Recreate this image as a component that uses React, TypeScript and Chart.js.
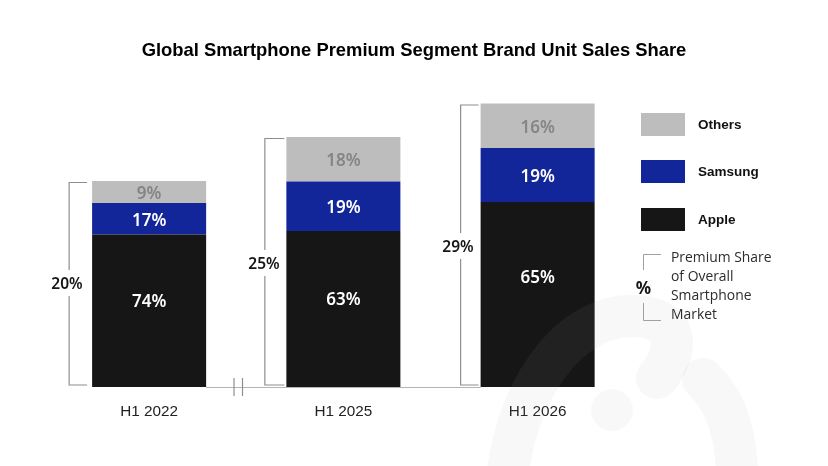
import React, { useEffect, useRef } from "react";
import { Chart, registerables } from "chart.js";

Chart.register(...registerables);

const TITLE = "Global Smartphone Premium Segment Brand Unit Sales Share";
const categories = ["H1 2022", "H1 2025", "H1 2026"];

// Segment heights as drawn in the picture, in premium-share points
const appleHeights = [15.25, 15.6, 18.5];
const samsungHeights = [3.15, 4.95, 5.4];
const othersHeights = [2.2, 4.45, 4.45];

// Printed labels
const appleLabels = ["74%", "63%", "65%"];
const samsungLabels = ["17%", "19%", "19%"];
const othersLabels = ["9%", "18%", "16%"];
const premiumLabels = ["20%", "25%", "29%"];

const noteLines = ["Premium Share", "of Overall", "Smartphone", "Market"];

const COLORS = { apple: "#161616", samsung: "#122599", others: "#bdbdbd" };
const SANS = '"Liberation Sans", Arial, sans-serif';
const PLEX = '"Noto Sans", sans-serif';
const NOTE = '"Open Sans", sans-serif';

const overlay = {
  id: "overlay",
  afterDatasetsDraw(chart: any) {
    const { ctx, scales } = chart;
    const y = scales.y;
    const base = y.getPixelForValue(0);
    ctx.save();

    // Faint watermark logo
    ctx.strokeStyle = "rgba(169,169,169,0.08)";
    ctx.fillStyle = "rgba(169,169,169,0.08)";
    ctx.lineWidth = 42;
    ctx.lineCap = "round";
    ctx.beginPath();
    ctx.moveTo(507, 485);
    ctx.bezierCurveTo(512, 398, 565, 316, 632, 316);
    ctx.bezierCurveTo(680, 316, 680, 350, 657, 378);
    ctx.stroke();
    ctx.beginPath();
    ctx.moveTo(703, 379);
    ctx.bezierCurveTo(725, 400, 738, 435, 737, 485);
    ctx.stroke();
    ctx.beginPath();
    ctx.arc(612, 410, 21, 0, Math.PI * 2);
    ctx.fill();

    // Axis line and break marks
    ctx.strokeStyle = "#b4b4b4";
    ctx.lineWidth = 1.2;
    ctx.lineCap = "butt";
    const m0 = chart.getDatasetMeta(0).data;
    ctx.beginPath();
    ctx.moveTo(m0[0].x + m0[0].width / 2, base + 0.5);
    ctx.lineTo(m0[2].x - m0[2].width / 2, base + 0.5);
    ctx.stroke();
    ctx.strokeStyle = "#8e8e8e";
    for (const bx of [234, 242.5]) {
      ctx.beginPath();
      ctx.moveTo(bx, base - 9);
      ctx.lineTo(bx, base + 9);
      ctx.stroke();
    }

    // Brackets with the premium share
    const offsets = [23, 21.5, 20];
    const tickEnds = [5, 2, 2];
    const labelY = [283, 263, 246];
    const labelX = [67, 264, 458];
    categories.forEach((_, i) => {
      const bar = m0[i];
      const left = bar.x - bar.width / 2;
      const bx = left - offsets[i];
      const topY = y.getPixelForValue(appleHeights[i] + samsungHeights[i] + othersHeights[i]) + 1.5;
      ctx.strokeStyle = "#8e8e8e";
      ctx.lineWidth = 1.2;
      ctx.beginPath();
      ctx.moveTo(left - tickEnds[i], topY);
      ctx.lineTo(bx, topY);
      ctx.lineTo(bx, base - 2);
      ctx.lineTo(left - tickEnds[i], base - 2);
      ctx.stroke();
      ctx.fillStyle = "#ffffff";
      ctx.fillRect(labelX[i] - 17, labelY[i] - 13, 34, 26);
      ctx.fillStyle = "#161616";
      ctx.font = `600 15.5px ${PLEX}`;
      ctx.textAlign = "center";
      ctx.textBaseline = "middle";
      ctx.fillText(premiumLabels[i], labelX[i], labelY[i] + 1.5);
    });

    // Segment labels
    const lifts = [10.5, 11, 18.5];
    const groups = [
      { labels: appleLabels, color: "#ffffff" },
      { labels: samsungLabels, color: "#ffffff" },
      { labels: othersLabels, color: "#858585" },
    ];
    ctx.font = `600 17px ${PLEX}`;
    groups.forEach((g, d) => {
      ctx.fillStyle = g.color;
      chart.getDatasetMeta(d).data.forEach((el: any, i: number) => {
        const mid = (el.y + el.base) / 2;
        ctx.fillText(g.labels[i], el.x, mid - (d === 0 ? lifts[i] : 0) + 2);
      });
    });

    // Legend
    const rows = [2, 1, 0];
    const rowY = [113, 160, 208];
    rows.forEach((d, r) => {
      const ds = chart.data.datasets[d];
      ctx.fillStyle = ds.backgroundColor;
      ctx.fillRect(641, rowY[r], 44, 23);
      ctx.fillStyle = "#111111";
      ctx.font = `bold 13.5px ${SANS}`;
      ctx.textAlign = "left";
      ctx.fillText(ds.label, 698, rowY[r] + 12.5);
    });

    // Premium-share note
    ctx.strokeStyle = "#a0a0a0";
    ctx.lineWidth = 1;
    ctx.beginPath();
    ctx.moveTo(661, 254.5);
    ctx.lineTo(643.5, 254.5);
    ctx.lineTo(643.5, 270);
    ctx.moveTo(643.5, 303);
    ctx.lineTo(643.5, 320.5);
    ctx.lineTo(661, 320.5);
    ctx.stroke();
    ctx.fillStyle = "#161616";
    ctx.font = `700 17px ${PLEX}`;
    ctx.textAlign = "center";
    ctx.fillText("%", 643.5, 289);
    ctx.fillStyle = "#2c2c2c";
    ctx.font = `13.9px ${NOTE}`;
    ctx.textAlign = "left";
    noteLines.forEach((t, i) => ctx.fillText(t, 671, 258 + i * 19));
    ctx.restore();
  },
};

export default function App() {
  const ref = useRef<HTMLCanvasElement>(null);
  useEffect(() => {
    const chart = new Chart(ref.current!, {
      type: "bar",
      data: {
        labels: categories,
        datasets: [
          { label: "Apple", data: appleHeights, backgroundColor: COLORS.apple },
          { label: "Samsung", data: samsungHeights, backgroundColor: COLORS.samsung },
          { label: "Others", data: othersHeights, backgroundColor: COLORS.others },
        ],
      },
      options: {
        animation: false,
        responsive: false,
        devicePixelRatio: 1,
        layout: { padding: 0 },
        datasets: { bar: { barPercentage: 0.587, categoryPercentage: 1 } },
        scales: {
          x: {
            stacked: true,
            grid: { display: false, drawTicks: false },
            border: { display: false },
            ticks: { color: "#222222", font: { family: SANS, size: 15.3 }, padding: 15.5, maxRotation: 0 },
            afterFit(s: any) { s.height = 79; },
          },
          y: {
            stacked: true,
            min: 0,
            max: 30,
            position: "left",
            grid: { display: false },
            border: { display: false },
            ticks: { display: false },
            afterFit(s: any) { s.width = 52; },
          },
          y2: {
            min: 0,
            max: 30,
            position: "right",
            grid: { display: false },
            border: { display: false },
            ticks: { display: false },
            afterFit(s: any) { s.width = 193.25; },
          },
        },
        plugins: {
          legend: { display: false },
          tooltip: { enabled: false },
          title: {
            display: true,
            text: TITLE,
            color: "#000000",
            font: { family: SANS, size: 18.4, weight: "bold", lineHeight: 1.2 },
            padding: { top: 39.5, bottom: 25.42 },
            fullSize: true,
          },
        },
      } as any,
      plugins: [overlay],
    });
    return () => chart.destroy();
  }, []);
  return (
    <canvas
      ref={ref}
      width={828}
      height={466}
      style={{ position: "fixed", left: 0, top: 0, width: 828, height: 466, background: "#ffffff" }}
    />
  );
}
